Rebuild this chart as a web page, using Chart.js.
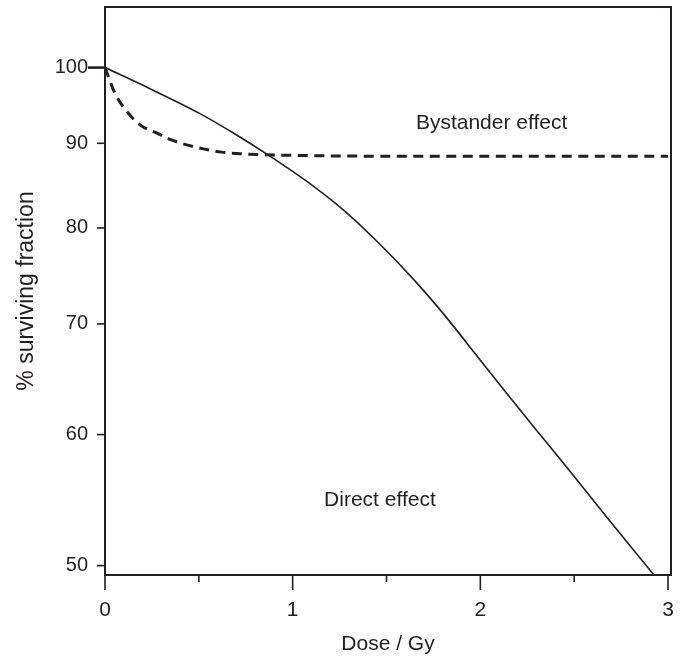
<!DOCTYPE html>
<html><head><meta charset="utf-8">
<script src="https://cdn.jsdelivr.net/npm/chart.js@4.4.0/dist/chart.umd.min.js"></script>
<style>html,body{margin:0;padding:0;background:#fff}#wrap{width:683px;height:657px}</style>
</head><body><div id="wrap"><canvas id="c" width="683" height="657"></canvas></div>
<script>
// ---- data ----
const directDose      = [0, 0.24, 0.506, 0.684, 0.879, 1.11, 1.288, 1.465, 1.643, 1.785, 1.998, 2.14, 2.318, 2.495, 2.673, 2.922];
const directSurvival  = [100, 97.1, 93.8, 91.3, 88.4, 84.8, 81.7, 78.2, 74.5, 71.4, 66.6, 63.55, 60.0, 56.7, 53.5, 49.4];
const bystanderDose     = [0, 0.053, 0.133, 0.195, 0.266, 0.346, 0.435, 0.524, 0.622, 0.72, 0.817, 1.0, 1.5, 2.0, 3.0];
const bystanderSurvival = [100, 96.5, 93.6, 92.2, 91.4, 90.5, 89.8, 89.3, 88.9, 88.7, 88.6, 88.5, 88.4, 88.4, 88.4];
const xTickValues      = [0, 1, 2, 3];
const xMinorTickValues = [0.5, 1.5, 2.5];
const yTickValues      = [50, 60, 70, 80, 90, 100];
const xTitle = 'Dose / Gy';
const yTitle = '% surviving fraction';
const annotations = [
  {text: 'Bystander effect', x: 2.06, y: 91.79},
  {text: 'Direct effect',    x: 1.465, y: 54.29}
];

const ink = '#231f20';
const fam = "'Liberation Sans', Arial, sans-serif";

const toPts = (xs, ys) => xs.map((x, i) => ({x: x, y: ys[i]}));

const framePlugin = {
  id: 'frame',
  afterDraw(chart) {
    const {ctx, chartArea: a, scales: {x, y}} = chart;
    ctx.save();
    ctx.strokeStyle = ink;
    ctx.lineWidth = 2;
    ctx.strokeRect(a.left, a.top, a.right - a.left, a.bottom - a.top);
    // x ticks
    ctx.lineWidth = 1.6;
    ctx.beginPath();
    xTickValues.forEach(v => { const p = x.getPixelForValue(v); ctx.moveTo(p, a.bottom); ctx.lineTo(p, a.bottom + 15); });
    xMinorTickValues.forEach(v => { const p = x.getPixelForValue(v); ctx.moveTo(p, a.bottom); ctx.lineTo(p, a.bottom + 7); });
    ctx.stroke();
    // y ticks
    yTickValues.forEach(v => {
      const p = y.getPixelForValue(v);
      const major = v === 100;
      ctx.lineWidth = major ? 2.6 : 1.6;
      ctx.beginPath();
      ctx.moveTo(a.left, p);
      ctx.lineTo(a.left - (major ? 17 : 8), p);
      ctx.stroke();
    });
    // annotations
    ctx.fillStyle = ink;
    ctx.font = '21px ' + fam;
    ctx.textAlign = 'center';
    ctx.textBaseline = 'alphabetic';
    annotations.forEach(t => ctx.fillText(t.text, x.getPixelForValue(t.x), y.getPixelForValue(t.y)));
    ctx.restore();
  }
};

new Chart(document.getElementById('c'), {
  type: 'line',
  data: {
    datasets: [
      {label: 'Direct effect', data: toPts(directDose, directSurvival), borderColor: ink, borderWidth: 1.6,
       pointRadius: 0, fill: false, cubicInterpolationMode: 'monotone'},
      {label: 'Bystander effect', data: toPts(bystanderDose, bystanderSurvival), borderColor: ink, borderWidth: 3,
       borderDash: [10, 6.5], pointRadius: 0, fill: false, cubicInterpolationMode: 'monotone'}
    ]
  },
  options: {
    responsive: false, animation: false, devicePixelRatio: 1,
    layout: {padding: {top: 7, right: 12, left: 0, bottom: 0}},
    plugins: {legend: {display: false}, tooltip: {enabled: false}},
    scales: {
      x: {
        type: 'linear', min: 0, max: 3.016,
        afterBuildTicks: s => { s.ticks = xTickValues.map(v => ({value: v})); },
        ticks: {font: {family: fam, size: 21}, color: ink, padding: 23, autoSkip: false, maxRotation: 0,
                callback: v => String(v)},
        grid: {display: false, drawTicks: false}, border: {display: false},
        title: {display: true, text: xTitle, color: ink, font: {family: fam, size: 21}, padding: 0},
        afterFit: s => { s.height = 82; s.paddingLeft = 0; s.paddingRight = 0; s.paddingTop = 0; s.paddingBottom = 0; }
      },
      y: {
        type: 'logarithmic', min: 49.35, max: 108.8,
        afterBuildTicks: s => { s.ticks = yTickValues.map(v => ({value: v})); },
        ticks: {font: {family: fam, size: 20}, color: ink, padding: 17, autoSkip: false,
                callback: v => String(v)},
        grid: {display: false, drawTicks: false}, border: {display: false},
        title: {display: true, text: yTitle, color: ink, font: {family: fam, size: 23}, padding: {top: 13, bottom: 0}},
        afterFit: s => { s.width = 105; s.paddingLeft = 0; s.paddingRight = 0; s.paddingTop = 0; s.paddingBottom = 0; }
      }
    }
  },
  plugins: [framePlugin]
});
</script></body></html>
